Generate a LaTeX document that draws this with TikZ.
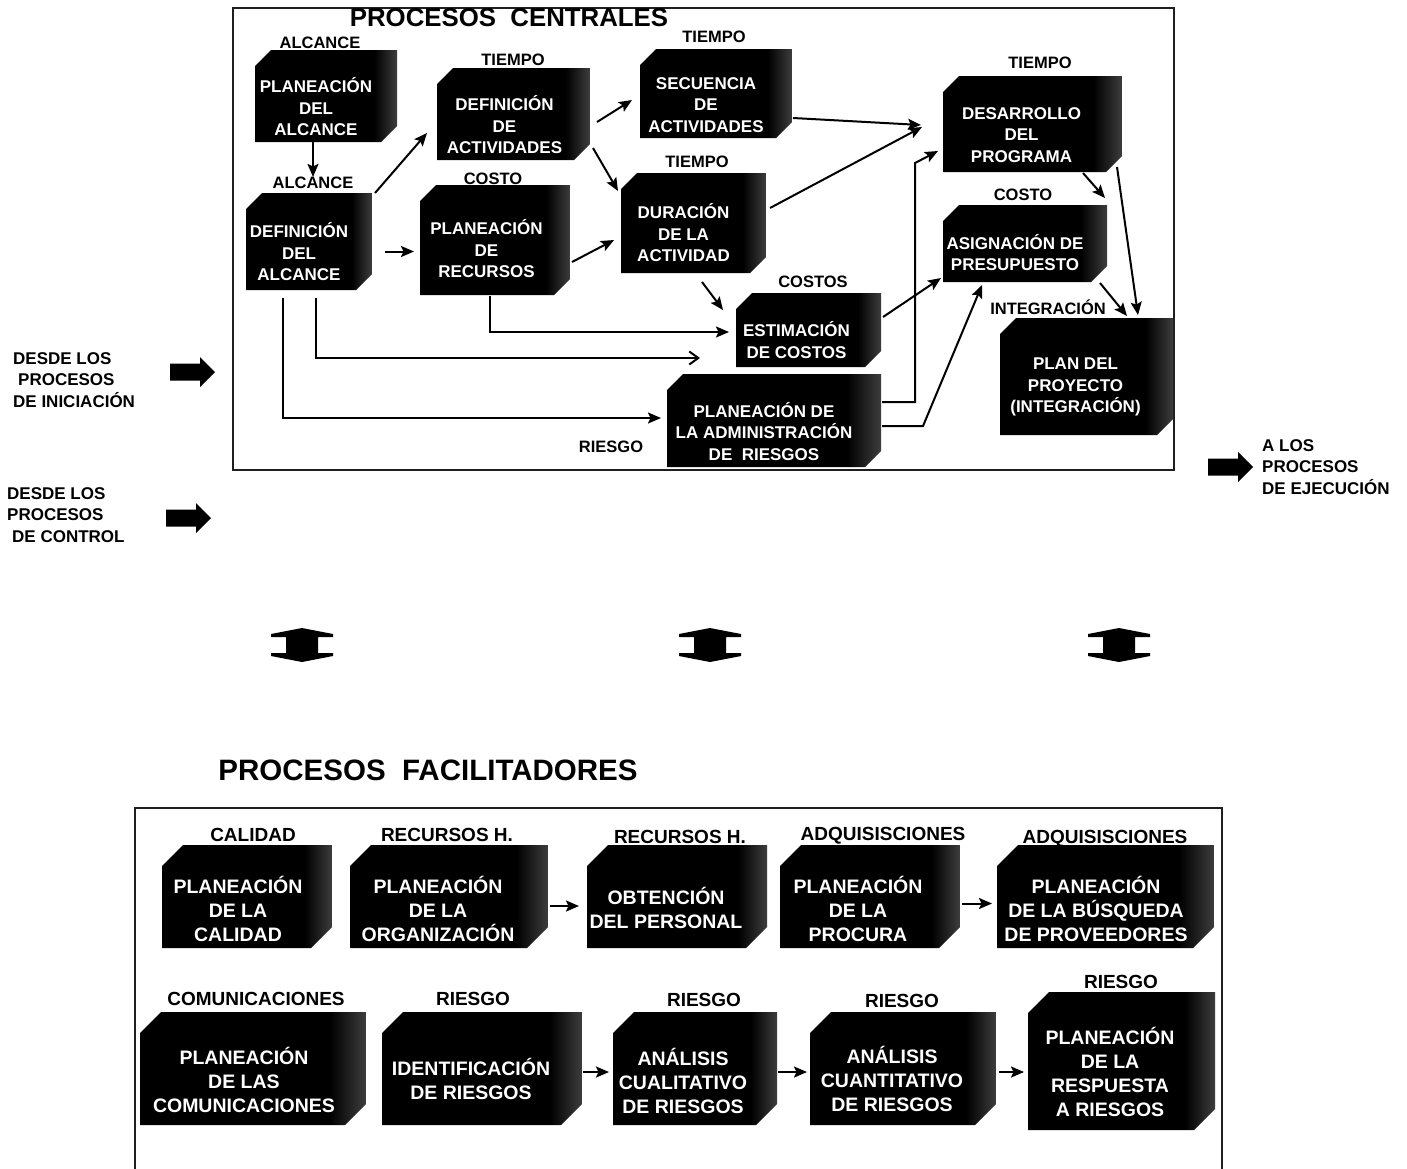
\documentclass[tikz,border=0pt]{standalone}
\usepackage{fontspec}
\setmainfont{Liberation Sans}
\usetikzlibrary{arrows.meta,calc}

% dark box face with a lighter strip on its right side
\pgfdeclarehorizontalshading{sideface}{100bp}{color(0bp)=(black); color(67bp)=(black); color(75bp)=(black!76); color(100bp)=(black!76)}

\newcommand\cham{16pt}
\newcommand\bxfont{\bfseries\fontsize{17}{21.5}\selectfont}
\newcommand\tgfont{\bfseries\fontsize{16.5}{19}\selectfont}

\tikzset{
  pbx/.style={rectangle, inner sep=0pt, outer sep=0pt,
    path picture={\shade[shading=sideface]
      ([yshift=-\cham]path picture bounding box.north west) --
      ([xshift=\cham]path picture bounding box.north west) --
      (path picture bounding box.north east) --
      ([yshift=\cham]path picture bounding box.south east) --
      ([xshift=-\cham]path picture bounding box.south east) --
      (path picture bounding box.south west) -- cycle;}},
  ptx/.style={text=white, align=center, inner sep=0pt, font=\bxfont},
  tag/.style={inner sep=0pt, font=\tgfont},
  side/.style={inner sep=0pt, align=left, anchor=west, font=\bfseries\fontsize{17}{21.5}\selectfont},
  arr/.style={line width=2pt, -{Stealth[length=13pt,width=11pt,inset=2.5pt]}},
  arrbarb/.style={line width=2pt, -{Straight Barb[length=9pt,width=13pt,line width=2pt]}},
  frame/.style={line width=1.6pt, draw=black!88},
  blockarr/.pic={\fill[black] (0,-8.5) -- (30,-8.5) -- (30,-15) -- (45,0) -- (30,15) -- (30,8.5) -- (0,8.5) -- cycle;},
  updown/.pic={\fill[black] (0,-17) -- (31,-11) -- (31,-8) -- (16,-8) -- (16,8) -- (31,8) -- (31,11) -- (0,17)
      -- (-31,11) -- (-31,8) -- (-16,8) -- (-16,-8) -- (-31,-8) -- (-31,-11) -- cycle;},
}

% box: name, x1, y1, x2, y2, text dx, text dy, text
\newcommand\pbox[8]{%
  \pgfmathsetmacro\bw{#4-#2}%
  \pgfmathsetmacro\bh{#5-#3}%
  \node[pbx, minimum width=\bw pt, minimum height=\bh pt] (#1) at ({(#2+#4)/2},{(#3+#5)/2}) {};
  \node[ptx] (#1-t) at ($(#1.center)+(#6,#7)$) {#8};
}

\begin{document}
\begin{tikzpicture}[x=1pt,y=-1pt]
\useasboundingbox[fill=white] (0,0) rectangle (1407,1168);

% ---------------- central processes ----------------
\draw[frame] (233,8) rectangle (1174,470);
\node[inner sep=0pt, font=\bfseries\fontsize{25.8}{28}\selectfont] (ttl1) at (509,18) {PROCESOS\ \ CENTRALES};

\node[tag] (pa-l) at (320,43) {ALCANCE};
\node[tag] (da-l) at (313,183) {ALCANCE};
\node[tag] (defact-l) at (513,60) {TIEMPO};
\node[tag] (pr-l) at (493,179) {COSTO};
\node[tag] (sec-l) at (714,37) {TIEMPO};
\node[tag] (dur-l) at (697,162) {TIEMPO};
\node[tag] (est-l) at (813,282) {COSTOS};
\node[tag] (rie-l) at (611,447) {RIESGO};
\node[tag] (des-l) at (1040,63) {TIEMPO};
\node[tag] (asig-l) at (1023,195) {COSTO};
\node[tag] (plan-l) at (1048,307) {INTEGRACIÓN};

\pbox{pa}{255}{50}{397}{142}{-10}{11}{PLANEACIÓN\\DEL\\ALCANCE}
\pbox{da}{246}{193}{372}{290}{-10}{10.5}{DEFINICIÓN\\DEL\\ALCANCE}
\pbox{defact}{437}{68}{590}{160}{-9}{11}{DEFINICIÓN\\DE\\ACTIVIDADES}
\pbox{pr}{420}{185}{570}{295}{-8.5}{9}{PLANEACIÓN\\DE\\RECURSOS}
\pbox{sec}{640}{49}{792}{138}{-10}{11.5}{SECUENCIA\\DE\\ACTIVIDADES}
\pbox{dur}{621}{173}{766}{273}{-10}{10}{DURACIÓN\\DE LA\\ACTIVIDAD}
\pbox{est}{736}{293}{881}{367}{-12}{10}{ESTIMACIÓN\\DE COSTOS}
\pbox{rie}{667}{374}{881}{467}{-10}{11}{PLANEACIÓN DE\\LA ADMINISTRACIÓN\\DE\ \ RIESGOS}
\pbox{des}{943}{76}{1122}{172}{-11}{11}{DESARROLLO\\DEL\\PROGRAMA}
\pbox{asig}{943}{205}{1107}{282}{-10}{9}{ASIGNACIÓN DE\\PRESUPUESTO}
\pbox{plan}{1000}{318}{1173}{435}{-11}{10.5}{PLAN DEL\\PROYECTO\\(INTEGRACIÓN)}

% flows between the central processes
\draw[arr] (pa.south -| da-l.north) -- (da-l.north);
\draw[arr] ($(da.north east)+(3,0)$) -- ($(defact.south west)+(-10,-27)$);
\draw[arr] ($(da.east)+(13,10)$) coordinate (s1) -- ($(s1 -| pr.west)+(-6,0)$);
\draw[arr] ($(defact.east)+(7,8)$) -- ($(sec.west)+(-8,6.5)$);
\draw[arr] ($(defact.south east)+(3,-12)$) -- ($(dur.north west)+(-3,18)$);
\draw[arr] ($(pr.east)+(2,22)$) -- ($(dur.west)+(-7,17)$);
\draw[arr] ($(pr.south)+(-5,1)$) |- ($(est.west)+(-7,2)$);
\draw[arrbarb] ($(da.south)+(7,8)$) |- ($(est.south west)+(-36,-9)$);
\draw[arr] ($(da.south)+(-26,8)$) |- ($(rie.west)+(-6,-2.5)$);
\draw[arr] ($(dur.south)+(8.5,9)$) -- ($(est.north west)+(-13,17)$);
\draw[arr] ($(sec.east)+(1,24.5)$) -- ($(des.west)+(-22,1)$);
\draw[arr] ($(dur.east)+(4,-15)$) -- ($(des.west)+(-21,3)$);
\draw[arr] ($(est.east)+(2,-13)$) -- ($(asig.south west)+(-2,-4)$);
\draw[arr] ($(rie.east)+(1,-18.5)$) -| ($(des.south west)+(-28,-9)$) -- ($(des.south west)+(-5,-21)$);
\draw[arr] ($(rie.east)+(1,5.5)$) -- ++(41,0) -- ($(asig.south)+(-43,3)$);
\draw[arr] ($(des.south east)+(-39,1)$) -- ($(asig.north east)+(-2,-7)$);
\draw[arr] ($(des.south east)+(-5,-5)$) -- ($(plan.north)+(51.5,-3)$);
\draw[arr] ($(asig.south east)+(-7,1)$) -- ($(plan.north)+(40.5,-2)$);

% inputs and outputs
\node[side] (in1) at (13,380) {DESDE LOS\\\hspace*{5pt}PROCESOS\\DE INICIACIÓN};
\pic at (170,372) {blockarr};
\node[side] (in2) at (7,515) {DESDE LOS\\PROCESOS\\\hspace*{5pt}DE CONTROL};
\pic at (166,518) {blockarr};
\pic at (1208,467) {blockarr};
\node[side] (out1) at (1262,467) {A LOS\\PROCESOS\\DE EJECUCIÓN};

% links between the two groups
\pic at (302,645) {updown};
\pic at (710,645) {updown};
\pic at (1119,645) {updown};

% ---------------- facilitating processes ----------------
\node[inner sep=0pt, font=\bfseries\fontsize{29.5}{32}\selectfont] (ttl2) at (428,770) {PROCESOS\ \ FACILITADORES};
\draw[frame] (135,1170) -- (135,808) -- (1222,808) -- (1222,1170);

\renewcommand\cham{21pt}
\renewcommand\bxfont{\bfseries\fontsize{19.5}{24}\selectfont}
\renewcommand\tgfont{\bfseries\fontsize{19}{21}\selectfont}

\node[tag] (cal-l) at (253,835) {CALIDAD};
\node[tag] (rech-l) at (447,835) {RECURSOS H.};
\node[tag] (obt-l) at (680,837) {RECURSOS H.};
\node[tag] (proc-l) at (883,836) {ADQUISISCIONES};
\node[tag] (bus-l) at (1105,839) {ADQUISISCIONES};
\node[tag] (comm-l) at (256,999) {COMUNICACIONES};
\node[tag] (ident-l) at (473,999) {RIESGO};
\node[tag] (cualit-l) at (704,1000) {RIESGO};
\node[tag] (cuant-l) at (902,1001) {RIESGO};
\node[tag] (resp-l) at (1121,982) {RIESGO};

\pbox{cal}{162}{845}{332}{948}{-9}{12.5}{PLANEACIÓN\\DE LA\\CALIDAD}
\pbox{rech}{350}{845}{548}{948}{-11}{12.5}{PLANEACIÓN\\DE LA\\ORGANIZACIÓN}
\pbox{obt}{587}{845}{767}{948}{-11}{11.5}{OBTENCIÓN\\DEL PERSONAL}
\pbox{proc}{780}{845}{960}{948}{-12}{12.5}{PLANEACIÓN\\DE LA\\PROCURA}
\pbox{bus}{997}{845}{1214}{948}{-9.5}{12.5}{PLANEACIÓN\\DE LA BÚSQUEDA\\DE PROVEEDORES}
\pbox{comm}{140}{1012}{366}{1125}{-9}{11.5}{PLANEACIÓN\\DE LAS\\COMUNICACIONES}
\pbox{ident}{382}{1012}{582}{1125}{-11}{10.5}{IDENTIFICACIÓN\\DE RIESGOS}
\pbox{cualit}{613}{1012}{777}{1125}{-12}{12.5}{ANÁLISIS\\CUALITATIVO\\DE RIESGOS}
\pbox{cuant}{810}{1012}{996}{1125}{-11}{10.5}{ANÁLISIS\\CUANTITATIVO\\DE RIESGOS}
\pbox{resp}{1028}{992}{1215}{1130}{-11.5}{11}{PLANEACIÓN\\DE LA\\RESPUESTA\\A RIESGOS}

\draw[arr] ($(rech.east)+(2,9.5)$) coordinate (s2) -- ($(s2 -| obt.west)+(-8,0)$);
\draw[arr] ($(proc.east)+(2,7)$) coordinate (s3) -- ($(s3 -| bus.west)+(-5,0)$);
\draw[arr] ($(ident.east)+(1,3.5)$) coordinate (s4) -- ($(s4 -| cualit.west)+(-4,0)$);
\draw[arr] ($(cualit.east)+(1,3.5)$) coordinate (s5) -- ($(s5 -| cuant.west)+(-3,0)$);
\draw[arr] ($(cuant.east)+(3,3.5)$) coordinate (s6) -- ($(s6 -| resp.west)+(-4,0)$);
\end{tikzpicture}
\end{document}
